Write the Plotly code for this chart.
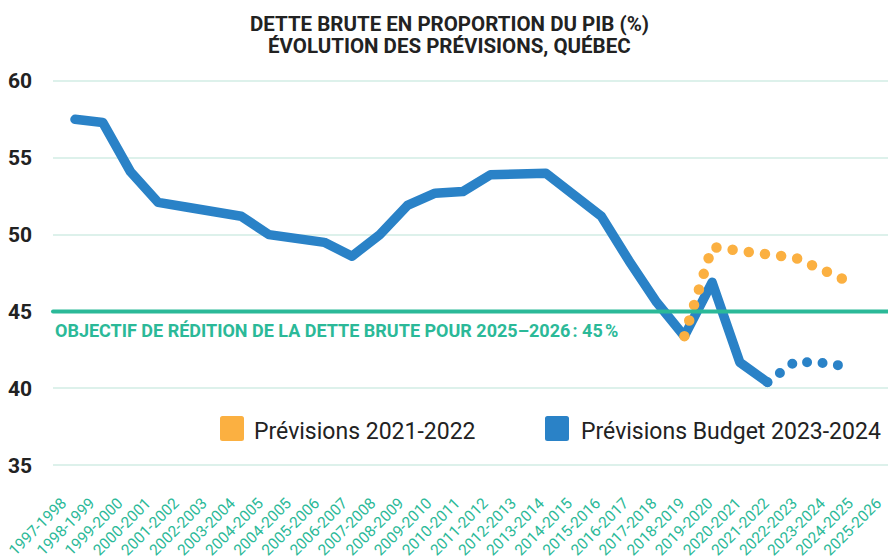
import plotly.graph_objects as go

# ---------------- data ----------------
PERIODS = ["1997-1998", "1998-1999", "1999-2000", "2000-2001", "2001-2002", "2002-2003",
           "2003-2004", "2004-2005", "2004-2005", "2005-2006", "2006-2007", "2007-2008",
           "2008-2009", "2009-2010", "2010-2011", "2011-2012", "2012-2013", "2013-2014",
           "2014-2015", "2015-2016", "2016-2017", "2017-2018", "2018-2019", "2019-2020",
           "2020-2021", "2021-2022", "2022-2023", "2023-2024", "2024-2025", "2025-2026"]

# Budget 2023-2024: realised series (index 0 .. 25)
BUDGET_2324_ACTUAL = [57.5, 57.3, 54.1, 52.1, 51.8, 51.5, 51.2, 50.0, 49.7, 49.5,
                      48.6, 50.0, 51.9, 52.7, 52.8, 53.9, 53.95, 54.0, 52.6, 51.2,
                      48.3, 45.6, 43.4, 46.9, 41.7, 40.4]
BUDGET_2324_ACTUAL_START = 0

# Budget 2023-2024 forecasts (index 25 .. 28)
BUDGET_2324_FORECAST = [40.4, 41.75, 41.65, 41.4]
BUDGET_2324_FORECAST_START = 25

# Prévisions 2021-2022 (index 22 .. 28)
FORECAST_2122 = [43.4, 49.2, 48.95, 48.7, 48.5, 47.7, 46.9]
FORECAST_2122_START = 22

TARGET = 45
Y_TICKS = [35, 40, 45, 50, 55, 60]

TITLE_LINES = ["DETTE BRUTE EN PROPORTION DU PIB (%)", "ÉVOLUTION DES PRÉVISIONS, QUÉBEC"]
TARGET_LABEL = "OBJECTIF DE RÉDITION DE LA DETTE BRUTE POUR 2025–2026\u202f: 45\u202f%"
LEGEND_LABELS = ["Prévisions 2021-2022", "Prévisions Budget 2023-2024"]

# ---------------- style ----------------
BLUE = "#2A82C7"
ORANGE = "#FBB041"
GREEN = "#2BB998"
GRID = "#DDF1EB"
DARK = "#222222"

W, H = 888, 558
ML, MR, MT, MB = 53, 0, 65, 70
PW, PH = W - ML - MR, H - MT - MB


def idx(start, n):
    return list(range(start, start + n))


fig = go.Figure()

fig.add_trace(go.Scatter(
    x=idx(BUDGET_2324_ACTUAL_START, len(BUDGET_2324_ACTUAL)), y=BUDGET_2324_ACTUAL,
    mode="lines", line=dict(color=BLUE, width=9.5), showlegend=False, hoverinfo="skip"))

fig.add_trace(go.Scatter(
    x=idx(BUDGET_2324_FORECAST_START, len(BUDGET_2324_FORECAST)), y=BUDGET_2324_FORECAST,
    mode="lines", line=dict(color=BLUE, width=10, dash="0px,15.5px"),
    showlegend=False, hoverinfo="skip"))

fig.add_trace(go.Scatter(
    x=idx(FORECAST_2122_START, len(FORECAST_2122)), y=FORECAST_2122,
    mode="lines", line=dict(color=ORANGE, width=10.5, dash="0px,16.3px"),
    showlegend=False, hoverinfo="skip"))

# x scale: index 0 at 75px, 27.7 px per period
X0_PX, STEP_PX = 75.0, 27.7
x_left = (ML - X0_PX) / STEP_PX
x_right = (W - MR - X0_PX) / STEP_PX
# tick labels are drawn on a slightly wider pitch than the data in the reference
LABEL_END0, LABEL_STEP = 62.0, 28.1
tickvals = [(LABEL_END0 + LABEL_STEP * i - X0_PX) / STEP_PX for i in range(len(PERIODS))]

# y scale: 35 at 465.3px, 60 at 80.9px
PX_PER_UNIT = (465.3 - 80.9) / 25
y_top = 60 + (80.9 - MT) / PX_PER_UNIT
y_bot = 35 - (H - MB - 465.3) / PX_PER_UNIT

fig.update_xaxes(range=[x_left, x_right], tickmode="array", tickvals=tickvals,
                 ticktext=PERIODS, tickangle=-45, showgrid=False, zeroline=False,
                 showline=False, ticks="", ticklabelstandoff=2, automargin=False,
                 ticklabeloverflow="allow",
                 tickfont=dict(family="Roboto", size=15.5, color=GREEN))
fig.update_yaxes(range=[y_bot, y_top], tickmode="array", tickvals=Y_TICKS,
                 showgrid=True, gridcolor=GRID, gridwidth=2, zeroline=False,
                 showline=False, ticks="", ticklabelstandoff=20, automargin=False,
                 tickfont=dict(family="Roboto", size=21, color=DARK, weight="bold"))

shapes = [dict(type="line", xref="paper", yref="y", x0=0, x1=1, y0=TARGET, y1=TARGET,
               line=dict(color=GREEN, width=4), layer="above")]


def px2paper_x(px):
    return (px - ML) / PW


def px2paper_y(py):
    return (H - MB - py) / PH


legend_colors = [ORANGE, BLUE]
legend_sq_x = [220, 545]
legend_txt_x = [252, 579]
for c, sx in zip(legend_colors, legend_sq_x):
    shapes.append(dict(type="rect", xref="paper", yref="paper",
                       x0=px2paper_x(sx + 2.5), x1=px2paper_x(sx + 24 - 2.5),
                       y0=px2paper_y(441 - 2.5), y1=px2paper_y(416 + 2.5),
                       fillcolor=c, line=dict(color=c, width=5), layer="above"))

annotations = [
    dict(text=TARGET_LABEL, xref="paper", yref="y", x=0, xanchor="left",
         y=40 + (388.3 - 330) / PX_PER_UNIT, yanchor="middle", showarrow=False,
         font=dict(family="Roboto", size=18, color=GREEN, weight="bold")),
]
for line_txt, cy in zip(TITLE_LINES, [24, 46]):
    annotations.append(dict(text=line_txt, xref="paper", yref="paper",
                            x=px2paper_x(449), xanchor="center",
                            y=px2paper_y(cy), yanchor="middle", showarrow=False,
                            borderpad=0,
                            font=dict(family="Roboto", size=20.5, color=DARK, weight="bold")))
for t, tx in zip(LEGEND_LABELS, legend_txt_x):
    annotations.append(dict(text=t, xref="paper", yref="paper", x=px2paper_x(tx),
                            xanchor="left", y=px2paper_y(431), yanchor="middle",
                            showarrow=False,
                            font=dict(family="Roboto", size=23, color=DARK)))

fig.update_layout(
    width=W, height=H, margin=dict(l=ML, r=MR, t=MT, b=MB, pad=0, autoexpand=False),
    paper_bgcolor="white", plot_bgcolor="white",
    shapes=shapes, annotations=annotations, showlegend=False,
)

post = """
document.documentElement.style.margin = '0';
document.body.style.margin = '0';
document.body.style.padding = '0';
document.body.style.overflow = 'hidden';
var gd = document.getElementById('{plot_id}');
function fixCaps(){
  gd.querySelectorAll('.scatterlayer path.js-line').forEach(function(p){
    p.style.strokeLinecap = 'round'; p.style.strokeLinejoin = 'round';
  });
  gd.querySelectorAll('.shapelayer path').forEach(function(p){
    p.style.strokeLinecap = 'round'; p.style.strokeLinejoin = 'round';
  });
}
fixCaps();
gd.on('plotly_afterplot', fixCaps);
setTimeout(fixCaps, 30);
"""

fig.write_html("out.html", config={"displayModeBar": False, "staticPlot": True},
               post_script=post)
